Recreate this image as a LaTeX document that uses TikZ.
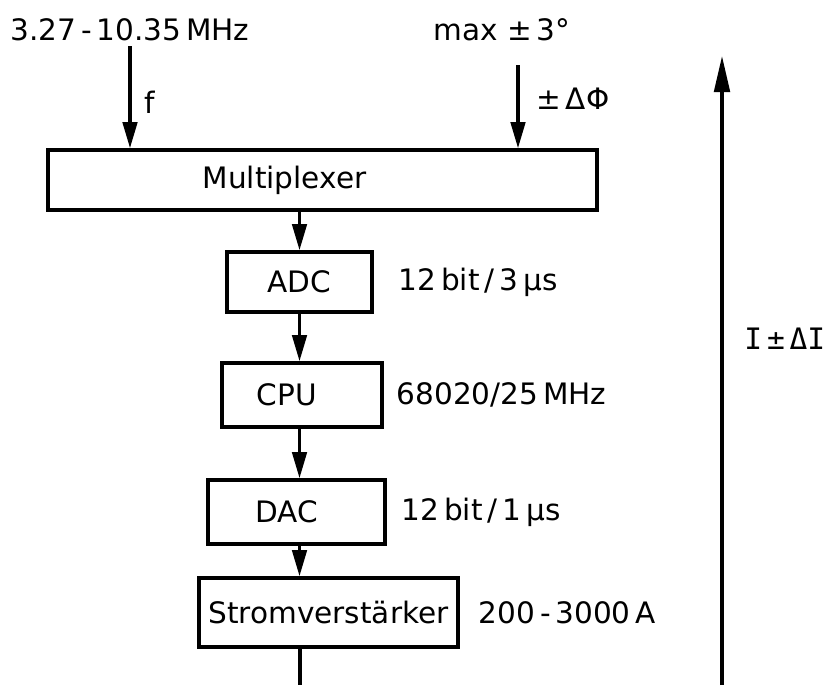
\documentclass[tikz,border=0pt]{standalone}
\usepackage{fontspec}
\setmainfont{DejaVu Sans}
\newfontfamily\schablone{DejaVu Sans Mono}
\usetikzlibrary{positioning,arrows.meta}

\begin{document}
\begin{tikzpicture}[
  x=0.025cm, y=-0.025cm,
  node distance=5mm,
  block/.style={draw, line width=2.5pt, inner sep=0pt, minimum height=1.5cm, font=\fontsize{21}{25}\selectfont},
  wert/.style={font=\fontsize{21}{25}\selectfont},
  pfeil/.style={-{Triangle[length=6.5mm, width=3.6mm]}, line width=2.3pt},
  langpfeil/.style={-{Triangle[length=9mm, width=3.9mm]}, line width=2.3pt}
]
\useasboundingbox (0,0) rectangle (832,685);

\node[block, minimum width=13.725cm] (mux) at (322.5,180) {Multiplexer\kern1.9cm};
\node[block, minimum width=3.625cm] (adc) at (299.5,282) {ADC};
\node[block, minimum width=4cm, minimum height=1.6cm] (cpu) at (302,395) {CPU\kern0.75cm};
\node[block, minimum width=4.425cm, minimum height=1.6cm] (dac) at (296.5,512) {DAC\kern0.5cm};
\node[block, minimum width=6.475cm, minimum height=1.725cm] (verst) at (328.5,612.5) {Stromverstärker};

\node[wert, right=5mm of adc] (adcwert) {12\,bit\,/\,3\,µs};
\node[wert, right=2mm of cpu] (cpuwert) {68020/25\,MHz};
\node[wert, right=2.5mm of dac] (dacwert) {12\,bit\,/\,1\,µs};
\node[wert, right=3.5mm of verst] (verstwert) {200\,-\,3000\,A};

\node[wert] (freq) at (130,30) {3.27\,-\,10.35\,MHz};
\node[wert] (phase) at (502,30) {max ±\,3°};
\coordinate (phin) at (518,65);
\coordinate (aus) at (300,685);
\coordinate (iunten) at (722,685);
\coordinate (ioben) at (722,56);

\draw[pfeil] (freq.south) -- (freq.south |- mux.north) node[wert, pos=0.55, right=2mm] {f};
\draw[pfeil] (phin) -- (phin |- mux.north) node[wert, pos=0.4, right=3mm] {±\,ΔΦ};

\draw[pfeil] (mux.south -| adc) -- (adc.north);
\draw[pfeil] (adc.south) -- (adc.south |- cpu.north);
\draw[pfeil] (cpu.south -| adc) -- (adc.south |- dac.north);
\draw[pfeil] (dac.south -| adc) -- (adc.south |- verst.north);
\draw[line width=2.3pt] (verst.south -| aus) -- (aus);

\draw[langpfeil] (iunten) -- (ioben) node[pos=0.55, right=4mm, font=\schablone\fontsize{21}{25}\selectfont] {I\,±\,ΔI};
\end{tikzpicture}
\end{document}
